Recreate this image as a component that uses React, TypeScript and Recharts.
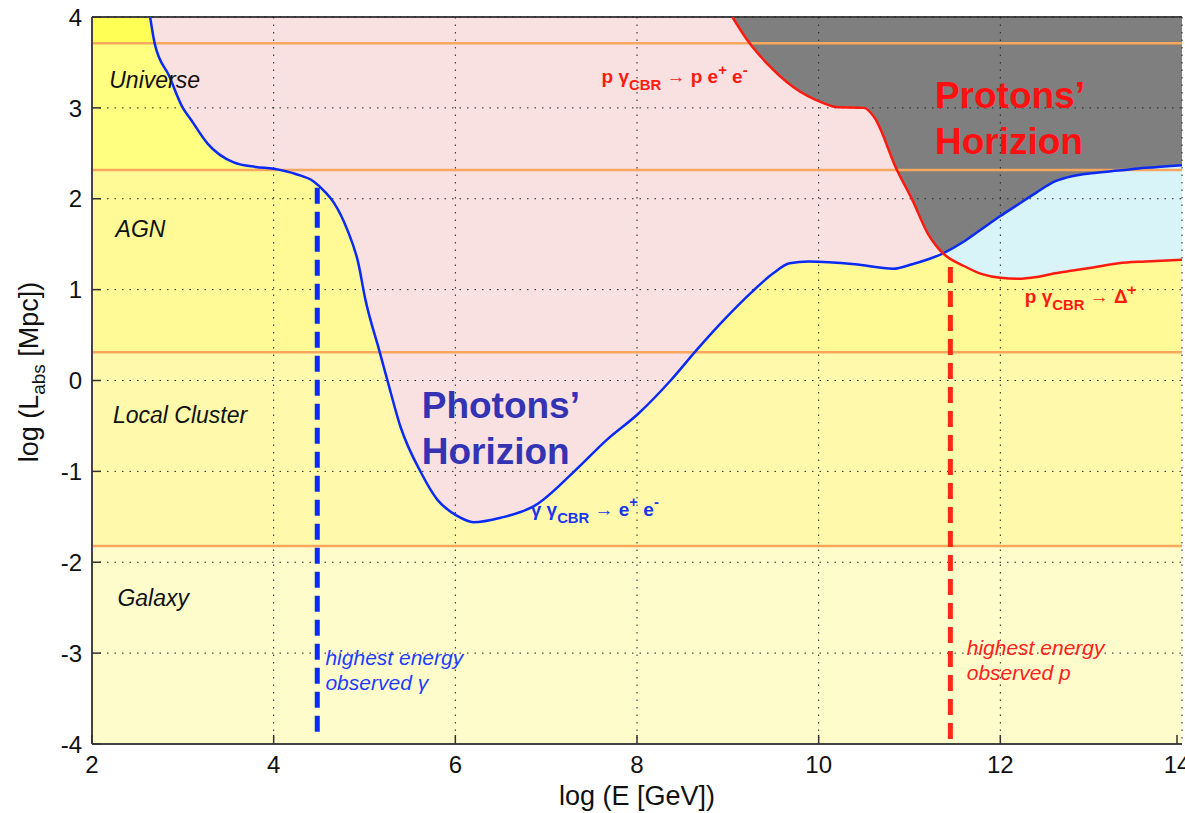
import type { ReactNode } from "react";
import {
  Area,
  CartesianGrid,
  ComposedChart,
  Line,
  ReferenceDot,
  ReferenceLine,
  XAxis,
  YAxis,
} from "recharts";

const FONT = '"Liberation Sans", Arial, Helvetica, sans-serif';

const xTicks = [2, 4, 6, 8, 10, 12, 14];
const yTicks = [-4, -3, -2, -1, 0, 1, 2, 3, 4];

// size scales, log10 of the size in Mpc
const scaleNames = ["Galaxy", "Local Cluster", "AGN", "Universe"];
const scaleLimits = [-1.82, 0.31, 2.315, 3.71];
const scaleLabelE = [2.28, 2.23, 2.26, 2.19];
const scaleLabelL = [-2.48, -0.47, 1.58, 3.22];
const bandColors = ["#FFFCCB", "#FFFAAB", "#FFF996", "#FFFF80", "#FFFF55"];

// photon absorption length (gamma gamma_CBR -> e+ e-)
const photonE = [
  2.64, 2.69, 2.85, 3.0, 3.09, 3.27, 3.56, 3.8, 4.0, 4.25, 4.44, 4.57, 4.66, 4.81, 4.93, 5.01,
  5.16, 5.25, 5.4, 5.62, 5.8, 6.02, 6.2, 6.5, 6.87, 7.31, 7.67, 8.02, 8.37, 8.66, 8.96, 9.26,
  9.5, 9.68, 9.89, 10.4, 10.82, 11.03, 11.37, 11.6, 11.8, 12.0, 12.2, 12.4, 12.6, 12.8, 13.0,
  13.3, 13.6, 14.0,
];
const photonL = [
  4.0, 3.71, 3.35, 3.0, 2.87, 2.61, 2.4, 2.35, 2.33, 2.27, 2.19, 2.07, 1.96, 1.66, 1.3, 0.89,
  0.34, 0.01, -0.52, -1.01, -1.31, -1.49, -1.56, -1.51, -1.38, -1.0, -0.65, -0.36, 0.0, 0.34,
  0.67, 0.97, 1.18, 1.29, 1.31, 1.28, 1.23, 1.28, 1.4, 1.53, 1.67, 1.81, 1.94, 2.07, 2.19, 2.25,
  2.28, 2.31, 2.34, 2.37,
];

// proton absorption length (p gamma_CBR -> p e+ e-, then -> Delta+)
const protonE = [
  9.05, 9.24, 9.43, 9.72, 10.06, 10.19, 10.5, 10.61, 10.86, 11.03, 11.2, 11.37, 11.6, 11.8, 12.0,
  12.2, 12.4, 12.6, 12.8, 13.0, 13.3, 13.6, 14.0,
];
const protonL = [
  4.0, 3.71, 3.49, 3.23, 3.05, 3.01, 3.0, 2.9, 2.32, 1.99, 1.62, 1.4, 1.26, 1.17, 1.13, 1.12, 1.14,
  1.18, 1.21, 1.24, 1.29, 1.31, 1.33,
];

const crossE = 11.37;
const gammaMaxE = 4.48;
const gammaMarkTop = 2.12;
const protonMaxE = 11.45;
const protonMarkTop = 1.25;
const markBottom = -3.95;

const photonPts = photonE.map((e, i) => ({ e, l: photonL[i] }));
const protonPts = protonE.map((e, i) => ({ e, l: protonL[i] }));

const bandEdges = [-4, ...scaleLimits, 4];
const bandData = bandColors.map((_, i) => [
  { e: 2, r: [bandEdges[i], bandEdges[i + 1]] },
  { e: 14, r: [bandEdges[i], bandEdges[i + 1]] },
]);
const pinkData = photonPts.filter((p) => p.e <= crossE).map((p) => ({ e: p.e, r: [p.l, 4] }));
const greyData = [
  ...protonPts.filter((p) => p.e < crossE),
  ...photonPts.filter((p) => p.e >= crossE),
].map((p) => ({ e: p.e, r: [p.l, 4] }));
const cyanData = photonPts
  .filter((p) => p.e >= crossE)
  .map((p) => ({ e: p.e, r: [protonL[protonE.indexOf(p.e)], p.l] }));

type Part = { t: string; sub?: boolean; sup?: boolean };

function Reaction({ x, y, parts, color, size }: { x: number; y: number; parts: Part[]; color: string; size: number }) {
  let shift = 0;
  return (
    <text x={x} y={y} fill={color} fontSize={size} fontFamily={FONT} fontWeight={600}>
      {parts.map((p, i) => {
        const target = p.sub ? size * 0.35 : p.sup ? -size * 0.45 : 0;
        const dy = target - shift;
        shift = target;
        return (
          <tspan key={i} dy={dy} fontSize={p.sub || p.sup ? size * 0.78 : size}>
            {p.t}
          </tspan>
        );
      })}
    </text>
  );
}

const note = (key: string, e: number, l: number, render: (x: number, y: number) => ReactNode) => (
  <ReferenceDot
    key={key}
    x={e}
    y={l}
    r={0}
    fill="none"
    stroke="none"
    ifOverflow="visible"
    zIndex={1000}
    label={(p: any) => render(p.viewBox.x, p.viewBox.y)}
  />
);

const XTick = (p: any) => (
  <g>
    <line x1={p.x} x2={p.x} y1={p.y - 10} y2={p.y - 19} stroke="#333" strokeWidth={1.5} />
    <text x={p.x} y={p.y} dy="0.8em" textAnchor="middle" fontSize={24} fontFamily={FONT} fill="#111">
      {p.payload.value}
    </text>
  </g>
);

const YTick = (p: any) => (
  <g>
    <line x1={p.x + 10} x2={p.x + 19} y1={p.y} y2={p.y} stroke="#333" strokeWidth={1.5} />
    <text x={p.x} y={p.y} dy="0.36em" textAnchor="end" fontSize={24} fontFamily={FONT} fill="#111">
      {p.payload.value}
    </text>
  </g>
);

export default function App() {
  return (
    <div style={{ position: "absolute", left: 0, top: 0, width: 1185, height: 813, background: "#fff" }}>
      <ComposedChart width={1185} height={813} margin={{ top: 17, right: 3, bottom: 0, left: 0 }}>
        <XAxis
          type="number"
          dataKey="e"
          domain={[2, 14]}
          ticks={xTicks}
          allowDataOverflow
          height={69}
          tickSize={0}
          tickMargin={10}
          tickLine={false}
          axisLine={{ stroke: "#444", strokeWidth: 2 }}
          tick={<XTick />}
          label={(p: any) => (
            <text
              x={p.viewBox.x + p.viewBox.width / 2}
              y={p.viewBox.y + 61}
              textAnchor="middle"
              fontSize={27}
              fontFamily={FONT}
              fill="#111"
            >
              log (E [GeV])
            </text>
          )}
        />
        <YAxis
          type="number"
          domain={[-4, 4]}
          ticks={yTicks}
          allowDataOverflow
          width={92}
          tickSize={0}
          tickMargin={10}
          tickLine={false}
          axisLine={{ stroke: "#444", strokeWidth: 2 }}
          tick={<YTick />}
          label={(p: any) => (
            <text
              x={38}
              y={372}
              transform="rotate(-90 38 372)"
              textAnchor="middle"
              fontSize={27}
              fontFamily={FONT}
              fill="#111"
            >
              log (L
              <tspan dy={7} fontSize={19}>
                abs
              </tspan>
              <tspan dy={-7}> [Mpc])</tspan>
            </text>
          )}
        />

        {bandData.map((d, i) => (
          <Area
            key={`band${i}`}
            name={`band${i}`}
            data={d}
            dataKey="r"
            type="linear"
            stroke="none"
            fill={bandColors[i]}
            fillOpacity={1}
            dot={false}
            activeDot={false}
            isAnimationActive={false}
          />
        ))}
        <Area
          name="pink"
          data={pinkData}
          dataKey="r"
          type="monotone"
          stroke="none"
          fill="#F9E1E1"
          fillOpacity={1}
          dot={false}
          activeDot={false}
          isAnimationActive={false}
        />
        <Area
          name="grey"
          data={greyData}
          dataKey="r"
          type="monotone"
          stroke="none"
          fill="#7F7F7F"
          fillOpacity={1}
          dot={false}
          activeDot={false}
          isAnimationActive={false}
        />
        <Area
          name="cyan"
          data={cyanData}
          dataKey="r"
          type="monotone"
          stroke="none"
          fill="#D8F4F8"
          fillOpacity={1}
          dot={false}
          activeDot={false}
          isAnimationActive={false}
        />

        {scaleLimits.map((v) => (
          <ReferenceLine key={`lim${v}`} y={v} stroke="#F7A85E" strokeWidth={2.5} zIndex={300} />
        ))}
        <ReferenceLine y={4} stroke="#444" strokeWidth={2} zIndex={300} />

        <CartesianGrid stroke="#222" strokeDasharray="1.5 6" zIndex={350} />

        <Line
          name="photons"
          data={photonPts}
          dataKey="l"
          type="monotone"
          stroke="#0A2AF5"
          strokeWidth={2.5}
          dot={false}
          activeDot={false}
          isAnimationActive={false}
        />
        <Line
          name="protons"
          data={protonPts}
          dataKey="l"
          type="monotone"
          stroke="#FF1A10"
          strokeWidth={2.5}
          dot={false}
          activeDot={false}
          isAnimationActive={false}
        />

        <ReferenceLine
          segment={[
            { x: gammaMaxE, y: gammaMarkTop },
            { x: gammaMaxE, y: markBottom },
          ]}
          stroke="#0A2AFF"
          strokeWidth={5}
          strokeDasharray="16 8"
          zIndex={500}
        />
        <ReferenceLine
          segment={[
            { x: protonMaxE, y: protonMarkTop },
            { x: protonMaxE, y: markBottom },
          ]}
          stroke="#FF2A15"
          strokeWidth={5}
          strokeDasharray="16 8"
          zIndex={500}
        />

        {scaleNames.map((n, i) =>
          note(`scale${i}`, scaleLabelE[i], scaleLabelL[i], (x, y) => (
            <text x={x} y={y} fontSize={23} fontStyle="italic" fontFamily={FONT} fill="#111">
              {n}
            </text>
          )),
        )}

        {note("photonsTitle", 5.63, -0.41, (x, y) => (
          <text x={x} y={y} fontSize={37} fontWeight="bold" fontFamily={FONT} fill="#3333B3">
            <tspan x={x}>Photons’</tspan>
            <tspan x={x} dy={46.5}>
              Horizion
            </tspan>
          </text>
        ))}
        {note("protonsTitle", 11.28, 3.0, (x, y) => (
          <text x={x} y={y} fontSize={37} fontWeight="bold" fontFamily={FONT} fill="#FF1010">
            <tspan x={x}>Protons’</tspan>
            <tspan x={x} dy={46.5}>
              Horizion
            </tspan>
          </text>
        ))}

        {note("ggReaction", 6.83, -1.49, (x, y) => (
          <Reaction
            x={x}
            y={y}
            color="#1A36F0"
            size={19}
            parts={[{ t: "γ  γ" }, { t: "CBR", sub: true }, { t: " → e" }, { t: "+", sup: true }, { t: " e" }, { t: "-", sup: true }]}
          />
        ))}
        {note("pairReaction", 7.61, 3.27, (x, y) => (
          <Reaction
            x={x}
            y={y}
            color="#FF1A10"
            size={19}
            parts={[{ t: "p γ" }, { t: "CBR", sub: true }, { t: " → p e" }, { t: "+", sup: true }, { t: " e" }, { t: "-", sup: true }]}
          />
        ))}
        {note("deltaReaction", 12.27, 0.85, (x, y) => (
          <Reaction
            x={x}
            y={y}
            color="#FF1A10"
            size={19}
            parts={[{ t: "p γ" }, { t: "CBR", sub: true }, { t: " → Δ" }, { t: "+", sup: true }]}
          />
        ))}

        {note("gammaMark", 4.57, -3.13, (x, y) => (
          <text x={x} y={y} fontSize={21} fontStyle="italic" fontFamily={FONT} fill="#1E3CFF">
            <tspan x={x}>highest energy</tspan>
            <tspan x={x} dy={25}>
              observed γ
            </tspan>
          </text>
        ))}
        {note("protonMark", 11.63, -3.02, (x, y) => (
          <text x={x} y={y} fontSize={21} fontStyle="italic" fontFamily={FONT} fill="#FF2020">
            <tspan x={x}>highest energy</tspan>
            <tspan x={x} dy={25}>
              observed p
            </tspan>
          </text>
        ))}
      </ComposedChart>
    </div>
  );
}
